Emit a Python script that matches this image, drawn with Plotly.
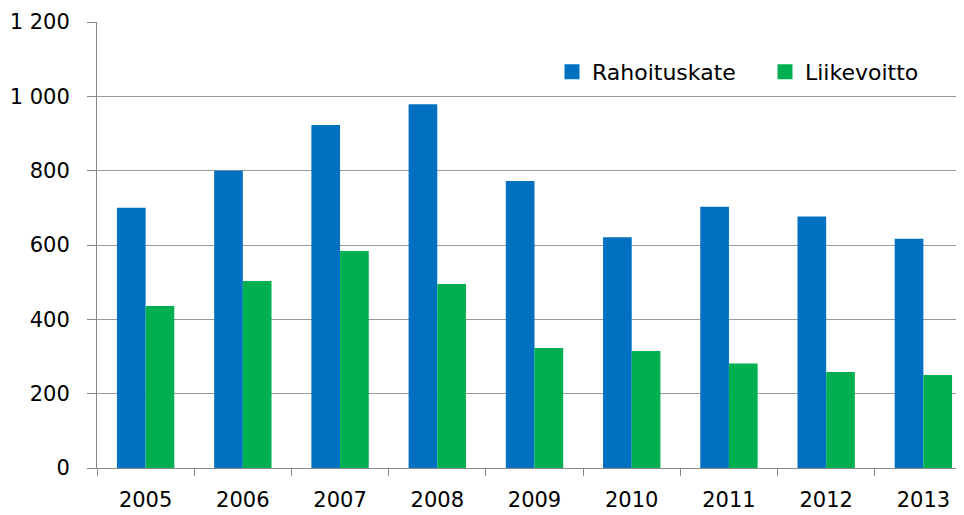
import plotly.graph_objects as go

years = ["2005", "2006", "2007", "2008", "2009", "2010", "2011", "2012", "2013"]
rahoituskate = [700, 800, 923, 979, 772, 621, 703, 677, 617]
liikevoitto = [436, 503, 584, 495, 323, 315, 281, 258, 250]
ytick_vals = [0, 200, 400, 600, 800, 1000, 1200]
ytick_text = ["0", "200", "400", "600", "800", "1 000", "1 200"]

font_fam = "DejaVu Sans, Verdana, sans-serif"
fsize = 21
c_blue, c_green = "#0070C0", "#00B050"

ML, MR, MT, MB = 89, 0, 14, 55
PW = 964 - ML - MR

fig = go.Figure()
fig.add_trace(go.Bar(x=years, y=rahoituskate, name="Rahoituskate", showlegend=False,
                     marker=dict(color=c_blue, line=dict(width=0))))
fig.add_trace(go.Bar(x=years, y=liikevoitto, name="Liikevoitto", showlegend=False,
                     marker=dict(color=c_green, line=dict(width=0))))
# legend entries with larger square swatches
fig.add_trace(go.Scatter(x=[None], y=[None], mode="markers", name="Rahoituskate",
                         legend="legend", hoverinfo="skip",
                         marker=dict(symbol="square", size=15, color=c_blue)))
fig.add_trace(go.Scatter(x=[None], y=[None], mode="markers", name="Liikevoitto",
                         legend="legend2", hoverinfo="skip",
                         marker=dict(symbol="square", size=15, color=c_green)))

leg_common = dict(orientation="h", xanchor="left", yanchor="middle",
                  font=dict(family=font_fam, size=22, color="black"),
                  bgcolor="rgba(0,0,0,0)")
fig.update_layout(
    width=964, height=515,
    margin=dict(l=ML, r=MR, t=MT, b=MB),
    paper_bgcolor="white", plot_bgcolor="white",
    barmode="group", bargap=0.41, bargroupgap=0,
    font=dict(family=font_fam, size=fsize, color="black"),
    legend=dict(x=(552 - 97) / PW, y=0.888, **leg_common),
    legend2=dict(x=(765 - 97) / PW, y=0.888, **leg_common),
    showlegend=True,
)
fig.update_xaxes(type="category", showline=True, linecolor="#888888", linewidth=1,
                 ticks="outside", tickson="boundaries", ticklen=7, tickcolor="#888888",
                 showgrid=False, automargin=False, ticklabelstandoff=13,
                 tickfont=dict(size=fsize, family=font_fam, color="black"))
fig.update_yaxes(range=[0, 1200], tickvals=ytick_vals, ticktext=ytick_text,
                 showline=True, linecolor="#888888", linewidth=1,
                 ticks="outside", ticklen=9, tickcolor="#888888",
                 showgrid=True, gridcolor="#999999", gridwidth=1, zeroline=False,
                 automargin=False, ticklabelstandoff=13,
                 tickfont=dict(size=fsize, family=font_fam, color="black"))

fig.write_html("out.html")
